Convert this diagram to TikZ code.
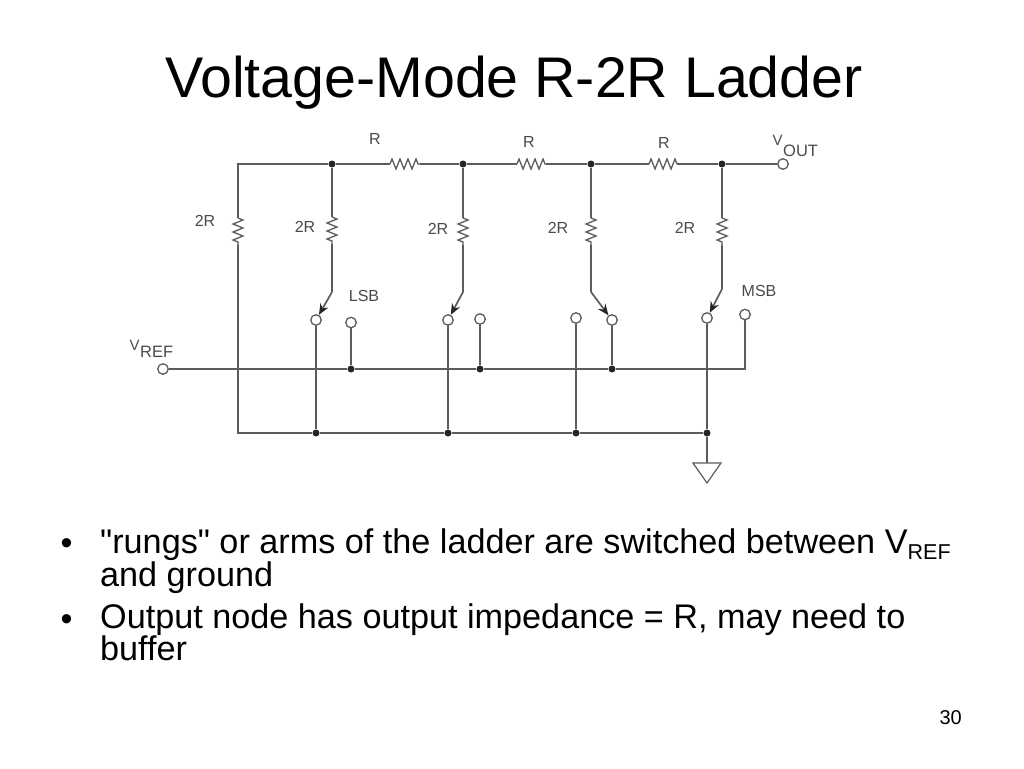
\documentclass[tikz,border=0pt]{standalone}
\usepackage{fontspec}
\newfontfamily\plainf[Ligatures=NoCommon]{Liberation Sans}
\usetikzlibrary{arrows.meta,decorations.pathmorphing}
\definecolor{wire}{HTML}{5C5C5C}
\definecolor{lab}{HTML}{4A4A4A}
\tikzset{
  x=1pt,y=-1pt,
  wireline/.style={draw=wire,line width=1.7pt,line join=miter},
  zz/.style={wireline,line width=1.3pt,decorate,decoration={zigzag,segment length=8pt,amplitude=5pt}},
  dot/.style={circle,fill=black!85,inner sep=0pt,minimum size=7pt},
  term/.style={circle,draw=wire,line width=1.3pt,fill=white,inner sep=0pt,minimum size=10.5pt},
  lbl/.style={font=\plainf\fontsize{16}{16}\selectfont,text=lab,inner sep=0pt,anchor=center},
  lblbig/.style={font=\plainf\fontsize{16.5}{16.5}\selectfont,text=lab,inner sep=0pt,anchor=base west},
  lblv/.style={font=\plainf\fontsize{15}{15}\selectfont,text=lab,inner sep=0pt,anchor=base west},
  body/.style={font=\plainf\fontsize{34.2}{34.2}\selectfont,text=black,inner sep=0pt,anchor=base west},
  bull/.style={font=\plainf\fontsize{34}{34}\selectfont,text=black,inner sep=0pt,anchor=center},
  swarrow/.style={wireline,-{Stealth[length=11pt,width=9pt,color=black!85]}},
}
\begin{document}
\begin{tikzpicture}
\useasboundingbox (0,0) rectangle (1024,768);
% text
\node[inner sep=0pt,anchor=base west,font=\plainf\fontsize{57.3}{57.3}\selectfont] (title) at (165,97) {Voltage-Mode R-2R Ladder};
\node[bull] (b1) at (66.5,547) {•};
\node[body] (t1) at (100,553) {"rungs" or arms of the ladder are switched between V\raisebox{-6pt}{\fontsize{21.5}{21.5}\selectfont REF}};
\node[body] (t2) at (100,586) {and ground};
\node[bull] (b2) at (66.5,622.5) {•};
\node[body] (t3) at (100,628) {Output node has output impedance = R, may need to};
\node[body] (t4) at (100,660) {buffer};
\node[inner sep=0pt,anchor=base east,font=\plainf\fontsize{20}{20}\selectfont] (page) at (962,724) {30};
% key points
\coordinate (c0) at (238,164);
\coordinate (c1) at (238,433);
\node[dot] (j1) at (332,164) {};
\node[dot] (j2) at (463,164) {};
\node[dot] (j3) at (591,164) {};
\node[dot] (j4) at (722,164) {};
\node[term] (vout) at (783,164) {};
\node[term] (vref) at (163,369) {};
% switch terminals
\node[term] (a1) at (316,320) {};
\node[term] (b1t) at (351,322.5) {};
\node[term] (a2) at (448,320) {};
\node[term] (b2t) at (480,319) {};
\node[term] (a3) at (576,318) {};
\node[term] (b3t) at (612,320) {};
\node[term] (a4) at (707,318) {};
\node[term] (b4t) at (745,314.5) {};
% vref dots
\node[dot] (r1) at (351,369) {};
\node[dot] (r2) at (480,369) {};
\node[dot] (r3) at (612,369) {};
\coordinate (rend) at (745,369);
% ground dots
\node[dot] (g1) at (316,433) {};
\node[dot] (g2) at (448,433) {};
\node[dot] (g3) at (576,433) {};
\node[dot] (g4) at (707,433) {};
\coordinate (gtop) at (707,463);
% horizontal resistor ends
\coordinate (h1a) at (390,164); \coordinate (h1b) at (420,164);
\coordinate (h2a) at (517,164); \coordinate (h2b) at (546,164);
\coordinate (h3a) at (649,164); \coordinate (h3b) at (677,164);
% vertical resistor ends
\coordinate (v0a) at (238,218); \coordinate (v0b) at (238,245);
\coordinate (v1a) at (332,217); \coordinate (v1b) at (332,244);
\coordinate (v2a) at (463,218); \coordinate (v2b) at (463,245);
\coordinate (v3a) at (591,218); \coordinate (v3b) at (591,245);
\coordinate (v4a) at (722,218); \coordinate (v4b) at (722,245);
% switch knees
\coordinate (k1) at (332,292);
\coordinate (k2) at (463,292);
\coordinate (k3) at (591,292);
\coordinate (k4) at (722,289);
% top rail
\draw[wireline] (v0a) -- (c0) -- (j1) -- (h1a);
\draw[zz] (h1a) -- (h1b);
\draw[wireline] (h1b) -- (j2) -- (h2a);
\draw[zz] (h2a) -- (h2b);
\draw[wireline] (h2b) -- (j3) -- (h3a);
\draw[zz] (h3a) -- (h3b);
\draw[wireline] (h3b) -- (j4) -- (vout);
% left leg
\draw[zz] (v0a) -- (v0b);
\draw[wireline] (v0b) -- (c1) -- (g1) -- (g2) -- (g3) -- (g4);
% rung legs
\draw[wireline] (j1) -- (v1a); \draw[zz] (v1a) -- (v1b); \draw[wireline] (v1b) -- (k1);
\draw[wireline] (j2) -- (v2a); \draw[zz] (v2a) -- (v2b); \draw[wireline] (v2b) -- (k2);
\draw[wireline] (j3) -- (v3a); \draw[zz] (v3a) -- (v3b); \draw[wireline] (v3b) -- (k3);
\draw[wireline] (j4) -- (v4a); \draw[zz] (v4a) -- (v4b); \draw[wireline] (v4b) -- (k4);
% switch arms
\draw[swarrow] (k1) -- (a1);
\draw[swarrow] (k2) -- (a2);
\draw[swarrow] (k3) -- (b3t);
\draw[swarrow] (k4) -- (a4);
% VREF rail
\draw[wireline] (vref) -- (r1) -- (r2) -- (r3) -- (rend) -- (b4t);
\draw[wireline] (r1) -- (b1t);
\draw[wireline] (r2) -- (b2t);
\draw[wireline] (r3) -- (b3t);
% to ground rail
\draw[wireline] (a1) -- (g1);
\draw[wireline] (a2) -- (g2);
\draw[wireline] (a3) -- (g3);
\draw[wireline] (a4) -- (g4);
\draw[wireline] (g4) -- (gtop);
% ground symbol
\draw[wire,line width=1.2pt,line join=miter] (693,463) -- (721,463) -- (707,483) -- cycle;
% labels
\node[lbl] (lr1) at (375,139) {R};
\node[lbl] (lr2) at (529,142) {R};
\node[lbl] (lr3) at (664,143) {R};
\node[lbl] (l0) at (205,221) {2R};
\node[lbl] (l1) at (305,227) {2R};
\node[lbl] (l2) at (438,229) {2R};
\node[lbl] (l3) at (558,228) {2R};
\node[lbl] (l4) at (685,228) {2R};
\node[lbl] (lsb) at (364,296) {LSB};
\node[lbl] (msb) at (759,291) {MSB};
\node[lblv] (vv1) at (129.5,350) {V};
\node[lblbig] (vv2) at (140,357) {REF};
\node[lblv] (vo1) at (772.5,145) {V};
\node[lblbig] (vo2) at (783,156) {OUT};
\end{tikzpicture}
\end{document}
